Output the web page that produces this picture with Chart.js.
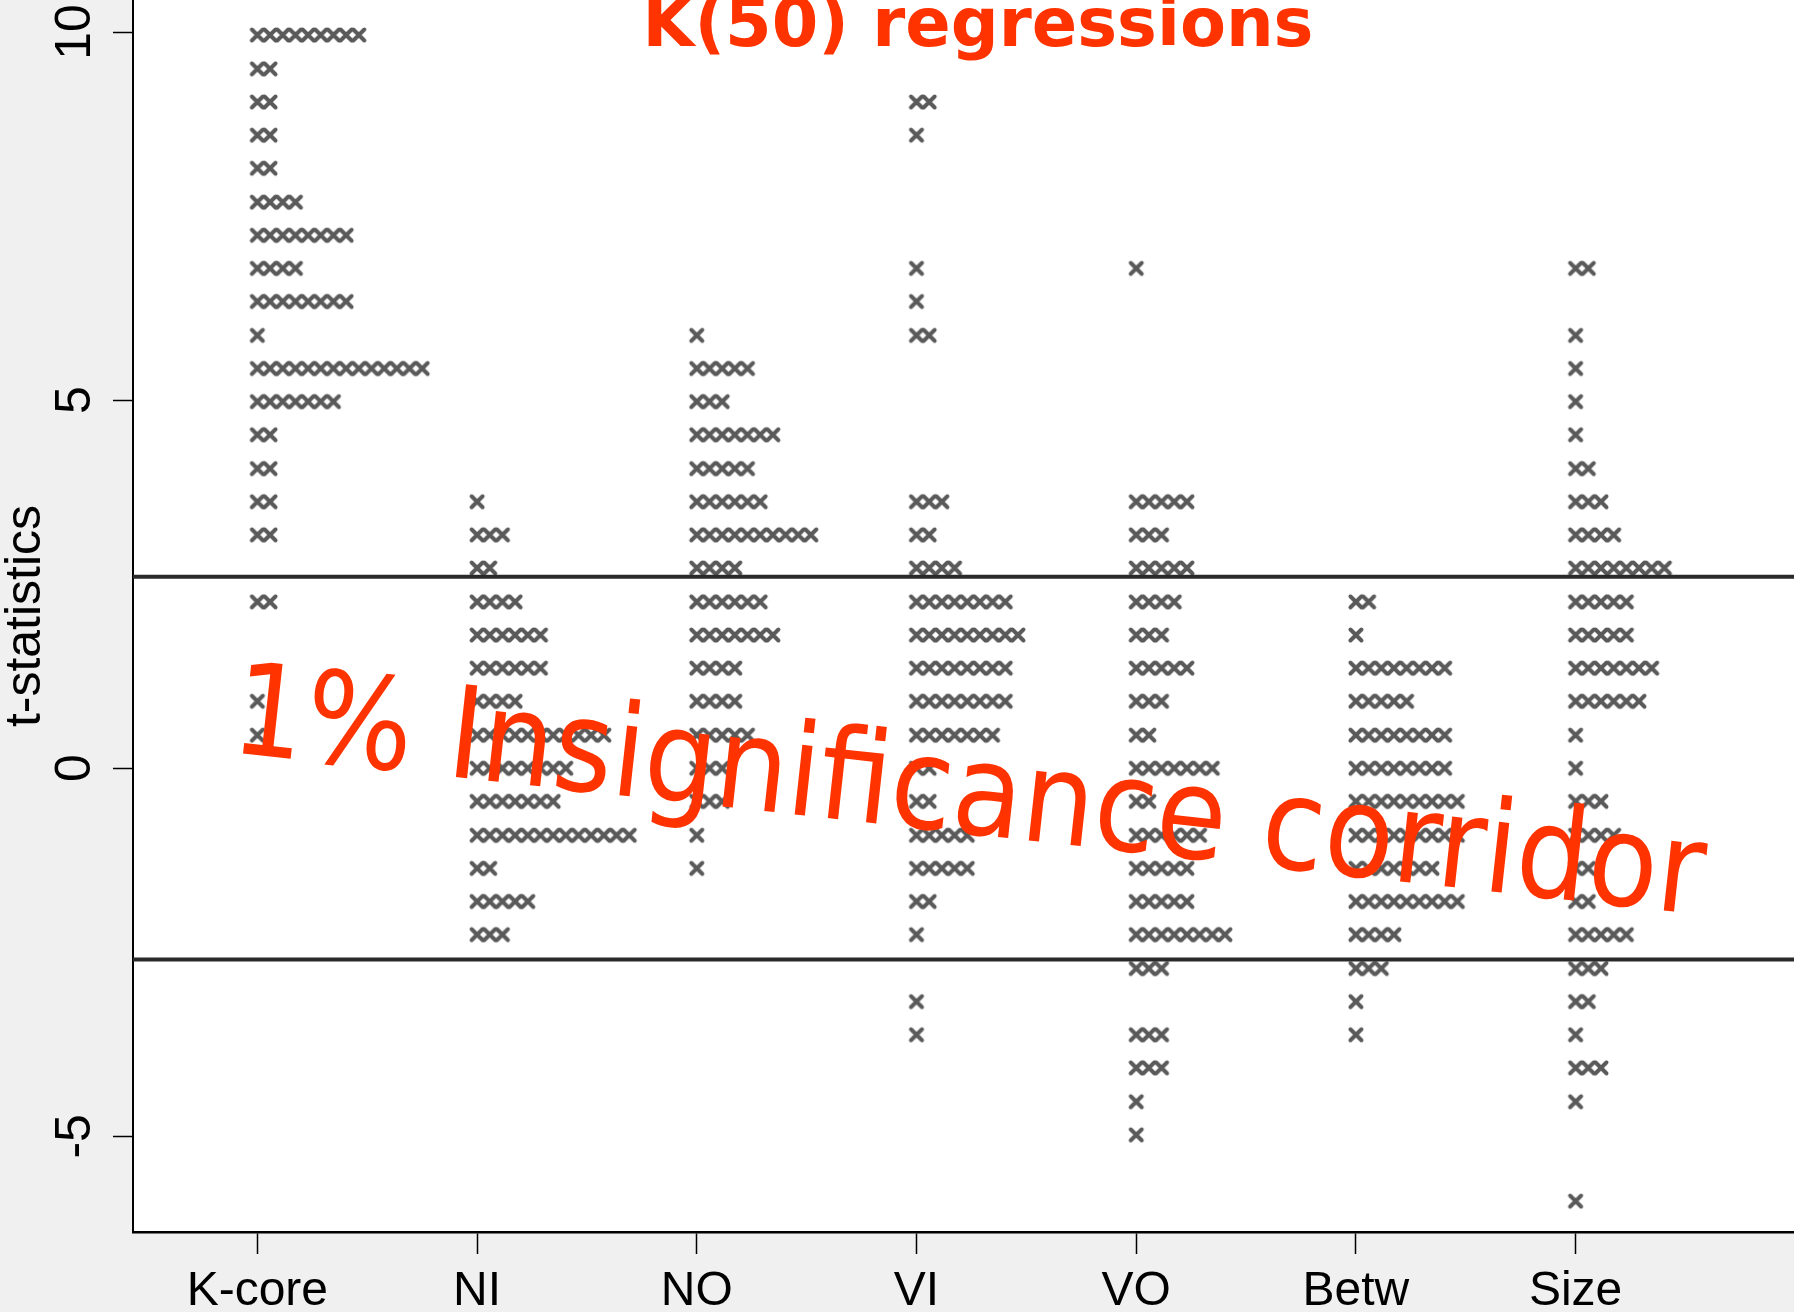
<!DOCTYPE html>
<html>
<head>
<meta charset="utf-8">
<script src="https://cdn.jsdelivr.net/npm/chart.js@4.4.1/dist/chart.umd.min.js"></script>
<style>
  html, body { margin: 0; padding: 0; background: #f0f0f0; }
  #wrap { width: 1794px; height: 1312px; }
</style>
</head>
<body>
<div id="wrap"><canvas id="c" width="1794" height="1312"></canvas></div>
<script>
// Regressors on the horizontal axis
const categories = ['K-core', 'NI', 'NO', 'VI', 'VO', 'Betw', 'Size'];

// Labelled values on the t-statistic axis
const yTickValues = [-5, 0, 5, 10];

// Centres of the t-statistic bins (top to bottom)
const binCenters = [
   9.96,  9.50,  9.05,  8.60,  8.15,  7.69,  7.24,  6.79,  6.34,  5.88,
   5.43,  4.98,  4.53,  4.07,  3.62,  3.17,  2.72,  2.26,  1.81,  1.36,
   0.91,  0.45,  0.00, -0.45, -0.91, -1.36, -1.81, -2.26, -2.72, -3.17,
  -3.62, -4.07, -4.53, -4.98, -5.43, -5.88
];

// Number of regressions whose t-statistic falls in each bin, per regressor
const countsKcore = [9,2,2,2,2,4,8,4,8,1,14,7,2,2,2,2,0,2,0,0,1,1,0,0,0,0,0,0,0,0,0,0,0,0,0,0];
const countsNI    = [0,0,0,0,0,0,0,0,0,0,0,0,0,0,1,3,2,4,6,6,4,11,8,7,13,2,5,3,0,0,0,0,0,0,0,0];
const countsNO    = [0,0,0,0,0,0,0,0,0,1,5,3,7,5,6,10,4,6,7,4,4,5,3,3,1,1,0,0,0,0,0,0,0,0,0,0];
const countsVI    = [0,0,2,1,0,0,0,1,1,2,0,0,0,0,3,2,4,8,9,8,8,7,2,2,5,5,2,1,0,1,1,0,0,0,0,0];
const countsVO    = [0,0,0,0,0,0,0,1,0,0,0,0,0,0,5,3,5,4,3,5,3,2,7,2,6,5,5,8,3,0,3,3,1,1,0,0];
const countsBetw  = [0,0,0,0,0,0,0,0,0,0,0,0,0,0,0,0,0,2,1,8,5,8,8,9,9,7,9,4,3,1,1,0,0,0,0,0];
const countsSize  = [0,0,0,0,0,0,0,2,0,1,1,1,1,2,3,4,8,5,5,7,6,1,1,3,4,2,2,5,3,2,1,3,1,0,0,1];

// 1% two-sided critical value
const criticalValue = 2.6;

const titleText = 'K(50) regressions';
const noteText = '1% Insignificance corridor';

// Axis ranges and horizontal spacing between stacked markers (axis units)
const xMin = -0.566, xMax = 6.994;
const yMin = -6.30, yMax = 10.435;
const markerStep = 0.0577;

const seriesCounts = [countsKcore, countsNI, countsNO, countsVI, countsVO, countsBetw, countsSize];
const dots = [];
seriesCounts.forEach((counts, ci) => {
  counts.forEach((n, bi) => {
    for (let k = 0; k < n; k++) dots.push({ x: ci + k * markerStep, y: binCenters[bi] });
  });
});

// Heavy round-capped "x" used as the point marker
function makeCross() {
  const s = 18;
  const cv = document.createElement('canvas');
  cv.width = s; cv.height = s;
  const g = cv.getContext('2d');
  g.strokeStyle = '#5a5a5a';
  g.lineWidth = 4;
  g.lineCap = 'round';
  g.beginPath();
  g.moveTo(3.5, 3.5); g.lineTo(14.5, 14.5);
  g.moveTo(14.5, 3.5); g.lineTo(3.5, 14.5);
  g.stroke();
  return cv;
}
const crossMarker = makeCross();

const backdrop = {
  id: 'backdrop',
  beforeDraw(chart) {
    const { ctx, chartArea: a } = chart;
    ctx.save();
    ctx.fillStyle = '#f0f0f0';
    ctx.fillRect(0, 0, chart.width, chart.height);
    ctx.fillStyle = '#ffffff';
    ctx.fillRect(a.left, a.top, a.right - a.left, a.bottom - a.top);
    ctx.restore();
  }
};

const overlayText = {
  id: 'overlayText',
  afterDraw(chart) {
    const { ctx } = chart;
    ctx.save();
    ctx.fillStyle = '#ff3300';
    // heading, partly above the top edge
    ctx.font = 'bold 67px "DejaVu Sans"';
    ctx.textAlign = 'center';
    ctx.textBaseline = 'alphabetic';
    ctx.fillText(titleText, 978, 46);
    // slanted note across the corridor
    ctx.font = '128px "DejaVu Sans"';
    ctx.textAlign = 'left';
    const w = ctx.measureText(noteText).width;
    ctx.translate(229, 752);
    ctx.rotate(6.3 * Math.PI / 180);
    ctx.scale(1480 / w, 1);
    ctx.fillText(noteText, 0, 0);
    ctx.restore();
  }
};

const axisFamily = '"Liberation Sans", Arial, sans-serif';

new Chart(document.getElementById('c'), {
  type: 'scatter',
  data: {
    datasets: [
      {
        data: [{ x: xMin, y: criticalValue }, { x: xMax, y: criticalValue }],
        showLine: true, pointRadius: 0, borderColor: '#2a2a2a', borderWidth: 4, order: 0
      },
      {
        data: [{ x: xMin, y: -criticalValue }, { x: xMax, y: -criticalValue }],
        showLine: true, pointRadius: 0, borderColor: '#2a2a2a', borderWidth: 4, order: 0
      },
      {
        data: dots,
        pointStyle: crossMarker, pointRadius: 9, borderWidth: 0,
        borderColor: '#5a5a5a', backgroundColor: '#5a5a5a', order: 1
      }
    ]
  },
  options: {
    responsive: false,
    animation: false,
    devicePixelRatio: 1,
    events: [],
    layout: { padding: 0, autoPadding: false },
    plugins: { legend: { display: false }, tooltip: { enabled: false } },
    scales: {
      x: {
        type: 'linear', min: xMin, max: xMax,
        afterBuildTicks: s => { s.ticks = categories.map((_, i) => ({ value: i })); },
        afterFit: s => { s.height = 80; s.paddingLeft = 0; s.paddingRight = 0; },
        ticks: {
          autoSkip: false, minRotation: 0, maxRotation: 0, padding: 9,
          color: '#000', font: { family: axisFamily, size: 48 },
          callback: v => categories[v]
        },
        grid: { display: true, drawOnChartArea: false, drawTicks: true, tickLength: 22, tickColor: '#000', tickWidth: 1.5 },
        border: { display: true, color: '#000', width: 2.5 }
      },
      y: {
        type: 'linear', min: yMin, max: yMax,
        afterBuildTicks: s => { s.ticks = yTickValues.map(v => ({ value: v })); },
        afterFit: s => { s.width = 133; s.paddingTop = 0; s.paddingBottom = 0; },
        ticks: {
          autoSkip: false, minRotation: 90, maxRotation: 90, crossAlign: 'center', padding: 9,
          color: '#000', font: { family: axisFamily, size: 50 }
        },
        title: {
          display: true, text: 't-statistics', color: '#000', padding: 0,
          font: { family: axisFamily, size: 50, lineHeight: 1.05 }
        },
        grid: { display: true, drawOnChartArea: false, drawTicks: true, tickLength: 20, tickColor: '#000', tickWidth: 1.5 },
        border: { display: true, color: '#000', width: 2 }
      }
    }
  },
  plugins: [backdrop, overlayText]
});
</script>
</body>
</html>
